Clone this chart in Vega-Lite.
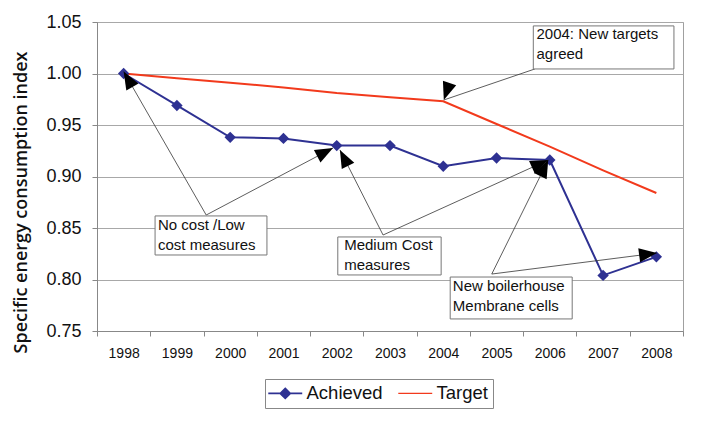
{
  "$schema": "https://vega.github.io/schema/vega-lite/v6.json",
  "autosize": {"type": "none"},
  "width": 586,
  "height": 309,
  "padding": {"left": 97, "top": 22, "right": 20, "bottom": 103},
  "background": "white",
  "config": {
    "view": {"stroke": "#a0a0a0", "strokeWidth": 1},
    "font": "Liberation Sans",
    "axis": {"labelFont": "Liberation Sans", "labelColor": "#111", "domainColor": "#888", "tickColor": "#888", "gridColor": "#a8a8a8"}
  },
  "datasets": {
    "series": [
      {"year": "1998", "series": "Achieved", "value": 1.0},
      {"year": "1999", "series": "Achieved", "value": 0.969},
      {"year": "2000", "series": "Achieved", "value": 0.938},
      {"year": "2001", "series": "Achieved", "value": 0.937},
      {"year": "2002", "series": "Achieved", "value": 0.930},
      {"year": "2003", "series": "Achieved", "value": 0.930},
      {"year": "2004", "series": "Achieved", "value": 0.910},
      {"year": "2005", "series": "Achieved", "value": 0.918},
      {"year": "2006", "series": "Achieved", "value": 0.916},
      {"year": "2007", "series": "Achieved", "value": 0.804},
      {"year": "2008", "series": "Achieved", "value": 0.822},
      {"year": "1998", "series": "Target", "value": 1.0},
      {"year": "1999", "series": "Target", "value": 0.9955},
      {"year": "2000", "series": "Target", "value": 0.991},
      {"year": "2001", "series": "Target", "value": 0.9865},
      {"year": "2002", "series": "Target", "value": 0.981},
      {"year": "2003", "series": "Target", "value": 0.977},
      {"year": "2004", "series": "Target", "value": 0.973},
      {"year": "2005", "series": "Target", "value": 0.951},
      {"year": "2006", "series": "Target", "value": 0.929},
      {"year": "2007", "series": "Target", "value": 0.906},
      {"year": "2008", "series": "Target", "value": 0.884}
    ],
    "arrows": [
      {"x": 1999.55, "y": 0.8626, "xt": 1998.0, "yt": 1.002, "angle": 330.5},
      {"x": 1999.55, "y": 0.8626, "xt": 2001.93, "yt": 0.9277, "angle": 62.2},
      {"x": 2002.87, "y": 0.8432, "xt": 2002.06, "yt": 0.9258, "angle": 333},
      {"x": 2002.87, "y": 0.8432, "xt": 2005.97, "yt": 0.916, "angle": 65.6},
      {"x": 2004.91, "y": 0.8053, "xt": 2005.97, "yt": 0.916, "angle": 26.2},
      {"x": 2004.91, "y": 0.8053, "xt": 2008.01, "yt": 0.8257, "angle": 82.7},
      {"x": 2005.72, "y": 1.0044, "xt": 2004.01, "yt": 0.9743, "angle": 198.8}
    ],
    "boxes": [
      {"x": 1998.59, "x2": 2000.69, "y": 0.8617, "y2": 0.8238, "tx": 1998.645, "ty": 0.8597, "label": "No cost /Low\ncost measures"},
      {"x": 2002.02, "x2": 2003.96, "y": 0.8413, "y2": 0.8044, "tx": 2002.14, "ty": 0.8403, "label": "Medium Cost\nmeasures"},
      {"x": 2004.13, "x2": 2006.42, "y": 0.8024, "y2": 0.7617, "tx": 2004.18, "ty": 0.8008, "label": "New boilerhouse\nMembrane cells"},
      {"x": 2005.69, "x2": 2008.33, "y": 1.0462, "y2": 1.0044, "tx": 2005.75, "ty": 1.0452, "label": "2004:  New targets\nagreed"}
    ]
  },
  "layer": [
    {
      "data": {"name": "series"},
      "mark": {"type": "line", "strokeWidth": 2},
      "encoding": {
        "x": {"field": "year", "type": "ordinal", "scale": {"type": "band", "paddingInner": 0, "paddingOuter": 0},
          "axis": {"title": null, "labelAngle": 0, "labelFontSize": 14, "tickBand": "extent", "tickSize": 5, "labelPadding": 10, "grid": false, "domainColor": "#888"}},
        "y": {"field": "value", "type": "quantitative", "scale": {"domain": [0.75, 1.05], "nice": false, "zero": false},
          "axis": {"title": "Specific energy consumption index", "values": [0.75, 0.8, 0.85, 0.9, 0.95, 1.0, 1.05], "format": ".2f", "labelFontSize": 18, "tickSize": 5, "labelPadding": 11,
            "titleFont": "Open Sans", "titleFontWeight": 600, "titleFontSize": 18, "titleColor": "#111", "titleX": -76, "titleY": 180, "titleAlign": "center", "titleBaseline": "middle", "titleAngle": -90}},
        "color": {"field": "series", "type": "nominal",
          "scale": {"domain": ["Achieved", "Target"], "range": ["#2e3192", "#f23a1c"]},
          "legend": {"title": null, "orient": "none", "legendX": 168, "legendY": 357, "direction": "horizontal",
            "strokeColor": "#888", "fillColor": "white", "padding": 5, "labelFontSize": 18.5, "labelColor": "#111", "labelFont": "Liberation Sans",
            "symbolSize": 512, "symbolOffset": 6, "labelOffset": 12, "columnPadding": 12, "symbolStrokeWidth": 1.6,
            "encode": {"symbols": {"update": {
              "shape": {"signal": "datum.value === 'Achieved' ? 'M-1.5,0H1.5M0,-0.45L0.45,0L0,0.45L-0.45,0Z' : 'M-1.5,0H1.5'"},
              "fill": {"signal": "datum.value === 'Achieved' ? '#2e3192' : 'transparent'"},
              "strokeWidth": {"signal": "datum.value === 'Achieved' ? 1.6 : 1.2"}
            }}}}
        }
      }
    },
    {
      "data": {"name": "series"},
      "transform": [{"filter": "datum.series === 'Achieved'"}],
      "mark": {"type": "point", "shape": "diamond", "filled": true, "size": 130, "color": "#2e3192", "opacity": 1},
      "encoding": {
        "x": {"field": "year", "type": "ordinal", "scale": {"type": "band", "paddingInner": 0, "paddingOuter": 0}, "axis": null},
        "y": {"field": "value", "type": "quantitative"}
      }
    },
    {
      "data": {"name": "arrows"},
      "mark": {"type": "rule", "color": "#333", "strokeWidth": 0.8},
      "encoding": {
        "x": {"field": "x", "type": "quantitative", "scale": {"domain": [1997.5, 2008.5], "nice": false, "zero": false}, "axis": null},
        "x2": {"field": "xt"},
        "y": {"field": "y", "type": "quantitative"},
        "y2": {"field": "yt"}
      }
    },
    {
      "data": {"name": "arrows"},
      "mark": {"type": "point", "shape": "M0,0L-0.55,1.4L0.55,1.4Z", "filled": true, "size": 650, "color": "black", "opacity": 1},
      "encoding": {
        "x": {"field": "xt", "type": "quantitative", "scale": {"domain": [1997.5, 2008.5], "nice": false, "zero": false}, "axis": null},
        "y": {"field": "yt", "type": "quantitative"},
        "angle": {"field": "angle", "type": "quantitative", "scale": null}
      }
    },
    {
      "data": {"name": "boxes"},
      "mark": {"type": "rect", "fill": "white", "stroke": "#777", "strokeWidth": 1},
      "encoding": {
        "x": {"field": "x", "type": "quantitative", "scale": {"domain": [1997.5, 2008.5], "nice": false, "zero": false}, "axis": null},
        "x2": {"field": "x2"},
        "y": {"field": "y", "type": "quantitative"},
        "y2": {"field": "y2"}
      }
    },
    {
      "data": {"name": "boxes"},
      "mark": {"type": "text", "align": "left", "baseline": "top", "fontSize": 15, "lineHeight": 20, "lineBreak": "\n", "font": "Liberation Sans", "color": "#111"},
      "encoding": {
        "x": {"field": "tx", "type": "quantitative", "scale": {"domain": [1997.5, 2008.5], "nice": false, "zero": false}, "axis": null},
        "y": {"field": "ty", "type": "quantitative"},
        "text": {"field": "label"}
      }
    }
  ],
  "resolve": {"scale": {"x": "independent"}}
}
